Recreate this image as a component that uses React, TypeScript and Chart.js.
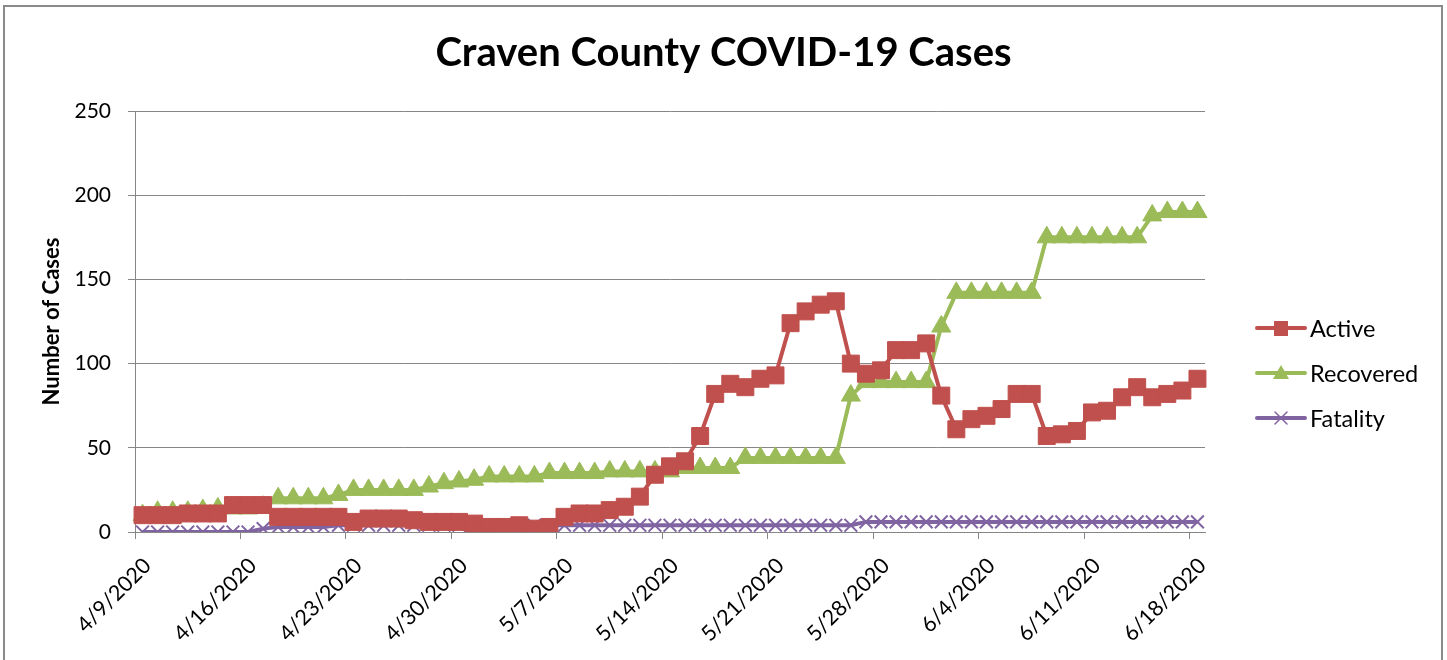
import React, { useEffect, useRef } from "react";
import { Chart, registerables } from "chart.js";

Chart.register(...registerables);

const dates = [
  "4/9/2020", "4/10/2020", "4/11/2020", "4/12/2020", "4/13/2020", "4/14/2020", "4/15/2020",
  "4/16/2020", "4/17/2020", "4/18/2020", "4/19/2020", "4/20/2020", "4/21/2020", "4/22/2020",
  "4/23/2020", "4/24/2020", "4/25/2020", "4/26/2020", "4/27/2020", "4/28/2020", "4/29/2020",
  "4/30/2020", "5/1/2020", "5/2/2020", "5/3/2020", "5/4/2020", "5/5/2020", "5/6/2020",
  "5/7/2020", "5/8/2020", "5/9/2020", "5/10/2020", "5/11/2020", "5/12/2020", "5/13/2020",
  "5/14/2020", "5/15/2020", "5/16/2020", "5/17/2020", "5/18/2020", "5/19/2020", "5/20/2020",
  "5/21/2020", "5/22/2020", "5/23/2020", "5/24/2020", "5/25/2020", "5/26/2020", "5/27/2020",
  "5/28/2020", "5/29/2020", "5/30/2020", "5/31/2020", "6/1/2020", "6/2/2020", "6/3/2020",
  "6/4/2020", "6/5/2020", "6/6/2020", "6/7/2020", "6/8/2020", "6/9/2020", "6/10/2020",
  "6/11/2020", "6/12/2020", "6/13/2020", "6/14/2020", "6/15/2020", "6/16/2020", "6/17/2020",
  "6/18/2020",
];

const shownDates = [
  "4/9/2020", "4/16/2020", "4/23/2020", "4/30/2020", "5/7/2020", "5/14/2020",
  "5/21/2020", "5/28/2020", "6/4/2020", "6/11/2020", "6/18/2020",
];

const active = [
  10, 10, 10, 11, 11, 11, 16, 16, 16, 9,
  9, 9, 9, 9, 6, 8, 8, 8, 7, 6,
  6, 6, 5, 3, 3, 4, 2, 3, 9, 11,
  11, 13, 15, 21, 34, 39, 42, 57, 82, 88,
  86, 91, 93, 124, 131, 135, 137, 100, 94, 96,
  108, 108, 112, 81, 61, 67, 69, 73, 82, 82,
  57, 58, 60, 71, 72, 80, 86, 80, 82, 84,
  91,
];

const recovered = [
  10, 12, 12, 12, 13, 14, 14, 14, 15, 20,
  20, 20, 20, 22, 25, 25, 25, 25, 25, 27,
  29, 30, 31, 33, 33, 33, 33, 35, 35, 35,
  35, 36, 36, 36, 36, 36, 38, 38, 38, 38,
  44, 44, 44, 44, 44, 44, 44, 81, 89, 89,
  89, 89, 89, 122, 142, 142, 142, 142, 142, 142,
  175, 175, 175, 175, 175, 175, 175, 188, 190, 190,
  190,
];

const fatality = [
  0, 0, 0, 0, 0, 0, 0, 0, 2, 3,
  3, 3, 3, 4, 4, 4, 4, 4, 4, 4,
  4, 4, 4, 4, 4, 4, 4, 4, 4, 4,
  4, 4, 4, 4, 4, 4, 4, 4, 4, 4,
  4, 4, 4, 4, 4, 4, 4, 4, 6, 6,
  6, 6, 6, 6, 6, 6, 6, 6, 6, 6,
  6, 6, 6, 6, 6, 6, 6, 6, 6, 6,
  6,
];

const chartTitle = "Craven County COVID-19 Cases";
const yAxisTitle = "Number of Cases";
const seriesNames = ["Active", "Recovered", "Fatality"];
const seriesColors = ["#C0504D", "#9BBB59", "#8064A2"];
const AXIS_GRAY = "#868686";
const FONT = "Lato, 'Open Sans', sans-serif";

function makeLegendIcon(kind: string, color: string): HTMLCanvasElement {
  const c = document.createElement("canvas");
  c.width = 52;
  c.height = 20;
  const g = c.getContext("2d")!;
  g.strokeStyle = color;
  g.fillStyle = color;
  g.lineWidth = 4;
  g.lineCap = "round";
  g.beginPath();
  g.moveTo(2, 10);
  g.lineTo(50, 10);
  g.stroke();
  if (kind === "rect") {
    g.fillRect(19, 3, 14, 15);
  } else if (kind === "triangle") {
    g.beginPath();
    g.moveTo(26, 2);
    g.lineTo(34, 16);
    g.lineTo(18, 16);
    g.closePath();
    g.fill();
  } else {
    g.lineWidth = 1.5;
    g.beginPath();
    g.moveTo(20, 4);
    g.lineTo(32, 16);
    g.moveTo(32, 4);
    g.lineTo(20, 16);
    g.stroke();
  }
  return c;
}

const titlePlugin = {
  id: "centerTitle",
  afterDraw(chart: any) {
    const { ctx } = chart;
    ctx.save();
    ctx.font = `bold 40px ${FONT}`;
    ctx.fillStyle = "#000";
    ctx.textAlign = "center";
    ctx.textBaseline = "alphabetic";
    ctx.fillText(chartTitle, chart.width / 2, 66);
    ctx.restore();
  },
};

const legendPlugin = {
  id: "sideLegend",
  afterDraw(chart: any) {
    const { ctx, chartArea } = chart;
    const kinds = ["rect", "triangle", "crossRot"];
    ctx.save();
    ctx.font = `23.5px ${FONT}`;
    ctx.fillStyle = "#000";
    ctx.textBaseline = "middle";
    ctx.textAlign = "left";
    const x0 = chartArea.right + 50;
    const yMid = chartArea.top + 262;
    seriesNames.forEach((name, i) => {
      const y = yMid + (i - 1) * 45;
      const icon = makeLegendIcon(kinds[i], seriesColors[i]);
      ctx.drawImage(icon, x0, y - 10);
      ctx.fillText(name, x0 + 55, y + 1);
    });
    ctx.restore();
  },
};

export default function App() {
  const canvasRef = useRef<HTMLCanvasElement | null>(null);

  useEffect(() => {
    const canvas = canvasRef.current;
    if (!canvas) return;
    const chart = new Chart(canvas, {
      type: "line",
      data: {
        labels: dates,
        datasets: [
          {
            label: seriesNames[0],
            data: active,
            borderColor: seriesColors[0],
            backgroundColor: seriesColors[0],
            borderWidth: 4,
            pointStyle: "rect",
            pointRadius: 12,
            pointBorderWidth: 1,
            pointBackgroundColor: seriesColors[0],
            pointBorderColor: seriesColors[0],
            tension: 0,
          },
          {
            label: seriesNames[1],
            data: recovered,
            borderColor: seriesColors[1],
            backgroundColor: seriesColors[1],
            borderWidth: 4,
            pointStyle: "triangle",
            pointRadius: 11,
            pointBorderWidth: 1,
            pointBackgroundColor: seriesColors[1],
            pointBorderColor: seriesColors[1],
            tension: 0,
          },
          {
            label: seriesNames[2],
            data: fatality,
            borderColor: seriesColors[2],
            backgroundColor: seriesColors[2],
            borderWidth: 4,
            pointStyle: "crossRot",
            pointRadius: 9,
            pointBorderWidth: 2,
            pointBorderColor: seriesColors[2],
            tension: 0,
          },
        ],
      },
      options: {
        responsive: false,
        animation: false,
        events: [],
        layout: { padding: { left: 0, right: 242, top: 111, bottom: 0 } },
        plugins: {
          legend: { display: false },
          tooltip: { enabled: false },
          title: { display: false },
        },
        scales: {
          x: {
            type: "category",
            offset: true,
            afterFit: (scale: any) => {
              scale.height = 128;
            },
            grid: {
              display: true,
              drawOnChartArea: false,
              drawTicks: true,
              tickLength: 7,
              offset: true,
              lineWidth: 1,
              color: (c: any) =>
                c.index !== undefined && shownDates.includes(dates[c.index])
                  ? AXIS_GRAY
                  : "rgba(0,0,0,0)",
            },
            border: { display: true, color: AXIS_GRAY, width: 1 },
            ticks: {
              autoSkip: false,
              maxRotation: 45,
              minRotation: 45,
              padding: 14,
              labelOffset: 5,
              color: "#000",
              font: { family: FONT, size: 21.5 },
              callback: function (this: any, value: any, index: number) {
                const lab = dates[index];
                return shownDates.includes(lab) ? lab : "";
              },
            },
          },
          y: {
            min: 0,
            max: 250,
            afterFit: (scale: any) => {
              scale.width = 135;
            },
            grid: {
              color: AXIS_GRAY,
              lineWidth: 1,
              drawTicks: true,
              tickLength: 7,
            },
            border: { display: true, color: AXIS_GRAY, width: 1 },
            ticks: {
              stepSize: 50,
              padding: 17,
              color: "#000",
              font: { family: FONT, size: 21 },
            },
            title: {
              display: true,
              text: yAxisTitle,
              color: "#000",
              font: { family: FONT, size: 22, weight: "bold" },
              padding: { top: 39, bottom: 0 },
            },
          },
        },
      },
      plugins: [titlePlugin, legendPlugin],
    });
    return () => chart.destroy();
  }, []);

  return (
    <div
      style={{
        position: "fixed",
        left: 0,
        top: 0,
        width: 1447,
        height: 660,
        background: "#fff",
        overflow: "hidden",
      }}
    >
      <canvas
        ref={canvasRef}
        width={1447}
        height={660}
        style={{ position: "absolute", left: 0, top: 0, width: 1447, height: 660 }}
      />
      <div
        style={{
          position: "absolute",
          left: 3,
          top: 5,
          width: 1436,
          height: 720,
          border: "2px solid #8a8a8a",
          pointerEvents: "none",
        }}
      />
    </div>
  );
}
